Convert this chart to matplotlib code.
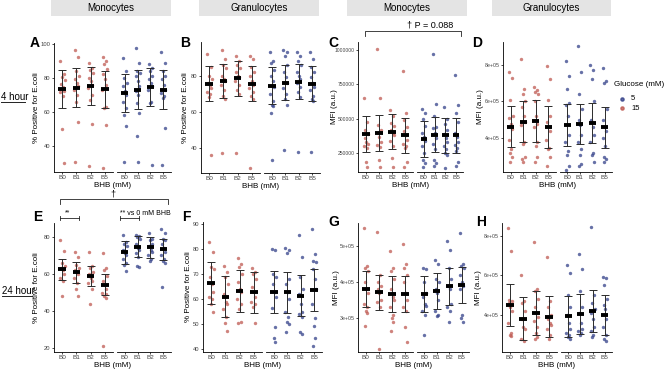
import matplotlib.pyplot as plt
from matplotlib.patches import Rectangle
from matplotlib.lines import Line2D

W, H = 668, 370
plt.rcParams['font.family'] = ['Liberation Sans', 'DejaVu Sans']

groups = ['B0', 'B1', 'B2', 'B5']
red = '#bf5a52'
blue = '#34418a'
# fixed horizontal spread of the points inside a group
jit = [-0.14, 0.10, -0.05, 0.16, -0.10, 0.04, 0.13, -0.16, 0.07, -0.02, 0.11, -0.08, 0.01]

# ---- A: monocytes, 4 hour, % positive ----
A_pts_15 = [[89.8, 82, 80.5, 78.5, 76.5, 74.5, 72.5, 71.5, 69, 50, 30],
            [96.5, 92, 84, 81, 79, 77, 75, 73, 70, 66, 54, 30.5],
            [88.5, 86, 84.5, 83, 80, 78, 76, 74, 70, 67, 52.5, 28],
            [92, 90, 88, 85, 82, 79, 76, 73, 63, 62, 52, 27]]
A_pts_5 = [[91.5, 84, 80, 77, 75, 72, 70, 66, 62, 58, 51.5, 30.5],
           [97.5, 89, 84, 83, 81, 78, 75, 72, 70, 65, 59, 46, 30.5],
           [88, 86, 84, 81, 79, 77, 75, 73, 66, 65, 28.5],
           [95, 89, 84, 81, 79, 76, 73, 71, 69, 68, 50.5, 28.5]]
A_mean_15 = [73.3, 74.1, 75.1, 73.3]
A_sd_15 = [11.0, 11.4, 11.2, 10.9]
A_mean_5 = [71.3, 73.0, 74.7, 73.1]
A_sd_5 = [11.2, 11.6, 11.2, 11.4]

# ---- B: granulocytes, 4 hour, % positive ----
B_pts_15 = [[92, 85, 80, 78, 76, 75, 73, 71, 70, 68, 36],
            [94.5, 89, 86, 84, 80, 78, 77, 75, 72, 69, 67, 37],
            [91, 88, 86, 84, 82, 80, 79, 77, 75, 72, 70, 37],
            [91, 89, 85, 82, 80, 77, 75, 73, 71, 69, 67, 29]]
B_pts_5 = [[93, 88, 87, 83, 80, 77, 74, 70, 66, 64, 63, 59.5, 33],
           [94, 93, 91, 86, 82, 79, 76, 73, 70, 67, 63.5, 38.5],
           [93, 91, 88, 86, 82, 80, 78, 76, 74, 71, 68, 37.5],
           [93, 89, 85, 82, 79, 76, 74, 72, 69, 67, 66, 37.5]]
B_mean_15 = [75.6, 77.0, 78.5, 75.6]
B_sd_15 = [9.75, 9.65, 9.9, 9.75]
B_mean_5 = [74.5, 76.1, 76.7, 75.6]
B_sd_5 = [10.1, 9.75, 9.7, 9.75]

# ---- C: monocytes, 4 hour, MFI (thousands) ----
C_pts_15 = [[647, 475, 420, 390, 360, 330, 315, 300, 285, 190, 148],
            [1005, 651, 455, 420, 400, 370, 330, 310, 295, 200, 150],
            [565, 520, 470, 450, 420, 400, 380, 340, 300, 215, 150],
            [846, 545, 490, 440, 410, 380, 350, 320, 300, 290, 190, 150]]
C_pts_5 = [[570, 545, 500, 450, 400, 370, 340, 300, 250, 200, 180, 150],
           [965, 610, 520, 440, 430, 400, 360, 320, 280, 200, 180, 160],
           [585, 500, 460, 420, 390, 360, 330, 300, 280, 250, 240, 145],
           [815, 600, 540, 480, 400, 370, 330, 310, 290, 270, 190, 160]]
C_mean_15 = [391, 397, 406, 382]
C_sd_15 = [129, 128.5, 127.5, 126]
C_mean_5 = [357, 385, 380, 380]
C_sd_5 = [130, 128.5, 127.5, 126]

# ---- D: granulocytes, 4 hour, MFI (thousands) ----
D_pts_15 = [[760, 726, 606, 520, 510, 480, 450, 390, 340, 320, 300, 273],
            [831, 670, 640, 600, 570, 520, 490, 470, 380, 370, 300, 290, 270],
            [680, 660, 650, 640, 600, 520, 480, 460, 380, 360, 300, 270],
            [790, 720, 610, 520, 490, 460, 440, 390, 350, 340, 300, 250]]
D_pts_5 = [[820, 740, 670, 590, 580, 520, 420, 380, 330, 310, 250, 230],
           [900, 760, 640, 560, 500, 470, 420, 380, 340, 310, 260, 250],
           [800, 770, 720, 600, 500, 460, 420, 380, 320, 310, 270],
           [780, 710, 700, 560, 500, 460, 440, 400, 360, 300, 290, 270]]
D_mean_15 = [464, 490, 494, 462]
D_sd_15 = [112.5, 112.5, 113, 112.5]
D_mean_5 = [472, 478, 483, 460]
D_sd_5 = [113.5, 108.5, 111, 111.5]

# ---- E: monocytes, 24 hour, % positive ----
E_pts_15 = [[78.5, 72.5, 66, 64, 63, 62, 60, 58, 56, 48],
            [72, 69, 65, 63, 62, 61, 60, 58, 55, 52, 48],
            [72, 64.5, 63, 61, 60, 58, 56, 55, 52, 44],
            [71.5, 63, 62, 59, 56, 54, 52, 50, 49, 48, 47, 21]]
E_pts_5 = [[81, 77, 76, 75, 73, 71, 70, 68, 66, 65, 61.5],
           [81, 80.5, 80, 79, 76, 74, 73, 71, 69, 64, 63.5],
           [82, 79, 78, 76, 75, 73, 72, 70, 68, 67],
           [84, 82, 79, 78, 76, 74, 72, 70, 68, 67, 66, 53]]
E_mean_15 = [62.6, 60.8, 59.0, 54.2]
E_sd_15 = [5.7, 5.65, 5.35, 5.65]
E_mean_5 = [71.6, 74.6, 74.3, 73.4]
E_sd_5 = [6.0, 5.75, 5.8, 5.65]

# ---- F: granulocytes, 24 hour, % positive ----
F_pts_15 = [[83, 79, 73, 72, 69, 66, 63, 61, 60, 58, 55],
            [73.5, 71, 69, 66, 62, 59, 58, 56, 53, 50.5, 47.5],
            [76.5, 74, 73, 70, 67, 64, 63, 60, 58, 56, 51, 50.5],
            [72.5, 71, 70, 68, 65, 63, 61, 59, 58, 57, 50.5]]
F_pts_5 = [[80, 79.5, 70, 69, 66, 63, 61, 56.5, 49, 44.5, 43],
           [80.5, 79.5, 78.5, 68, 66, 63, 60, 55, 53, 51, 50, 47],
           [85.5, 77, 69, 64, 62, 58, 55, 54, 53, 47, 46],
           [88, 78, 75.5, 75, 72, 68, 64, 58, 52.5, 49.5, 44.5, 41.5]]
F_mean_15 = [66.4, 61.1, 63.3, 62.8]
F_sd_15 = [8.35, 8.15, 8.45, 8.3]
F_mean_5 = [63.1, 62.9, 61.5, 63.7]
F_sd_5 = [8.4, 8.2, 8.25, 8.4]

# ---- G: monocytes, 24 hour, MFI (thousands) ----
G_pts_15 = [[549, 445, 440, 430, 400, 380, 370, 340, 330, 320, 315, 280],
            [540, 420, 400, 390, 380, 370, 350, 345, 330, 215],
            [485, 440, 430, 410, 380, 360, 350, 330, 310, 300, 290, 265],
            [505, 450, 440, 420, 400, 370, 350, 330, 320, 275, 235]]
G_pts_5 = [[440, 435, 400, 370, 360, 340, 335, 320, 310, 255],
           [460, 450, 410, 400, 380, 370, 350, 320, 310, 305],
           [515, 490, 440, 410, 390, 380, 340, 330, 320, 290],
           [535, 450, 445, 440, 420, 400, 390, 380, 310, 300, 290]]
G_mean_15 = [381.6, 372, 368, 368]
G_sd_15 = [49, 49, 49.5, 49.5]
G_mean_5 = [367, 376, 388, 393]
G_sd_5 = [50.5, 49.5, 51, 49.5]

# ---- H: granulocytes, 24 hour, MFI (thousands) ----
H_pts_15 = [[837, 723, 475, 470, 460, 440, 420, 360, 310, 300, 295],
            [600, 470, 460, 420, 380, 340, 330, 280, 270],
            [770, 530, 520, 480, 440, 410, 390, 370, 340, 310, 290, 280],
            [690, 470, 440, 400, 380, 360, 350, 330, 300, 280]]
H_pts_5 = [[650, 610, 500, 440, 400, 360, 330, 310, 300, 290, 280],
           [710, 630, 520, 440, 410, 360, 330, 320, 310, 300],
           [845, 500, 460, 430, 410, 380, 340, 320, 300, 290],
           [590, 585, 550, 480, 450, 430, 380, 340, 300, 280, 270]]
H_mean_15 = [450, 382, 410, 392]
H_sd_15 = [105, 107, 111, 104]
H_mean_5 = [393, 405, 420, 398]
H_sd_5 = [105, 100.5, 106.5, 101]


def px(x, y):
    # pixel position (from top left) to figure fraction
    return x / W, 1 - y / H


def line(fig, xs, ys, lw=0.6):
    fig.add_artist(Line2D([x / W for x in xs], [1 - y / H for y in ys],
                          transform=fig.transFigure, color='#222222', lw=lw))


def panel(fig, box, pts15, m15, sd15, pts5, m5, sd5, ylim, yticks, ylabels,
          ylabel, ylab_x, letter, letter_xy, scale=1, ytick_size=4.2):
    x0, xg, x1, top, bot = box
    b = 1 - bot / H
    h = (bot - top) / H
    axl = fig.add_axes([x0 / W, b, (xg - 2 - x0) / W, h])
    axr = fig.add_axes([(xg + 2) / W, b, (x1 - xg - 2) / W, h], sharey=axl)
    for ax, pts, m, sd, c in [(axl, pts15, m15, sd15, red), (axr, pts5, m5, sd5, blue)]:
        for i, vals in enumerate(pts):
            xs = [i + jit[k] for k in range(len(vals))]
            ax.scatter(xs, [v * scale for v in vals], s=6, color=c, alpha=0.75,
                       linewidths=0, zorder=2)
        xs = list(range(4))
        ax.errorbar(xs, [v * scale for v in m], yerr=[v * scale for v in sd], fmt='none',
                    ecolor='#2b2b2b', elinewidth=0.7, capsize=2.6, capthick=0.7, zorder=3)
        ax.hlines([v * scale for v in m], [x - 0.28 for x in xs], [x + 0.28 for x in xs],
                  color='black', lw=2.8, zorder=4)
        ax.set_xlim(-0.6, 3.6)
        ax.set_xticks(xs)
        ax.set_xticklabels(groups, fontsize=4.6, color='#444444')
        ax.spines['top'].set_visible(False)
        ax.spines['right'].set_visible(False)
        ax.spines['bottom'].set_linewidth(0.6)
        ax.spines['left'].set_linewidth(0.6)
        ax.tick_params(length=1.5, width=0.5, pad=1.0)
        ax.patch.set_alpha(0)
    axl.set_ylim(ylim)
    axl.set_yticks(yticks)
    axl.set_yticklabels(ylabels, fontsize=ytick_size, color='#444444')
    axr.spines['left'].set_visible(False)
    axr.tick_params(left=False, labelleft=False)
    fig.text(*px((x0 + x1) / 2, bot + 13.5), 'BHB (mM)', ha='center', va='center', fontsize=5.8)
    fig.text(*px(ylab_x, (top + bot) / 2), ylabel, rotation=90, ha='center', va='center',
             fontsize=5.8)
    fig.text(*px(*letter_xy), letter, fontsize=10, fontweight='bold', ha='center', va='center')


fig = plt.figure(figsize=(W / 100, H / 100), dpi=100)

pos_lab = '% Positive for E.coli'
mfi_lab = 'MFI (a.u.)'

panel(fig, (54, 115, 171, 43, 172), A_pts_15, A_mean_15, A_sd_15, A_pts_5, A_mean_5, A_sd_5,
      (24.5, 100.5), [40, 60, 80, 100], ['40', '60', '80', '100'], pos_lab, 36, 'A', (35, 43))
panel(fig, (201, 262, 320, 42, 173), B_pts_15, B_mean_15, B_sd_15, B_pts_5, B_mean_5, B_sd_5,
      (26, 98.7), [40, 60, 80], ['40', '60', '80'], pos_lab, 186, 'B', (185, 43))
panel(fig, (358, 415, 463, 42, 172), C_pts_15, C_mean_15, C_sd_15, C_pts_5, C_mean_5, C_sd_5,
      (115000, 1055000), [250000, 500000, 750000, 1000000],
      ['250000', '500000', '750000', '1000000'], mfi_lab, 334, 'C', (333, 43), scale=1000,
      ytick_size=3.6)
panel(fig, (503, 558, 612, 42, 172), D_pts_15, D_mean_15, D_sd_15, D_pts_5, D_mean_5, D_sd_5,
      (217000, 923000), [400000, 600000, 800000], ['4e+05', '6e+05', '8e+05'],
      mfi_lab, 480, 'D', (477, 43), scale=1000, ytick_size=3.8)
panel(fig, (54, 115, 171, 223, 352), E_pts_15, E_mean_15, E_sd_15, E_pts_5, E_mean_5, E_sd_5,
      (18, 87.4), [20, 40, 60, 80], ['20', '40', '60', '80'], pos_lab, 37, 'E', (38, 217))
panel(fig, (203, 264, 322, 222, 352), F_pts_15, F_mean_15, F_sd_15, F_pts_5, F_mean_5, F_sd_5,
      (38.9, 90.9), [40, 50, 60, 70, 80, 90], ['40', '50', '60', '70', '80', '90'],
      pos_lab, 188, 'F', (186, 217))
panel(fig, (358, 415, 469, 223, 352), G_pts_15, G_mean_15, G_sd_15, G_pts_5, G_mean_5, G_sd_5,
      (206800, 563600), [300000, 400000, 500000], ['3e+05', '4e+05', '5e+05'],
      mfi_lab, 336, 'G', (334, 222), scale=1000, ytick_size=3.8)
panel(fig, (502, 559, 612, 223, 352), H_pts_15, H_mean_15, H_sd_15, H_pts_5, H_mean_5, H_sd_5,
      (213000, 864000), [400000, 600000, 800000], ['4e+05', '6e+05', '8e+05'],
      mfi_lab, 479, 'H', (481, 222), scale=1000, ytick_size=3.8)

# strip headers
strips = [(51, 171, 'Monocytes'), (199, 319, 'Granulocytes'),
          (347, 467, 'Monocytes'), (492, 611, 'Granulocytes')]
for xa, xb, txt in strips:
    fig.add_artist(Rectangle(px(xa, 16), (xb - xa) / W, 16 / H, transform=fig.transFigure,
                             facecolor='#e4e4e4', edgecolor='none'))
    fig.text(*px((xa + xb) / 2, 8), txt, ha='center', va='center', fontsize=7)

# row labels
fig.text(*px(1, 97), '4 hour', ha='left', va='center', fontsize=7)
line(fig, [1, 25], [102, 102], lw=0.7)
fig.text(*px(2, 291), '24 hour', ha='left', va='center', fontsize=7)
line(fig, [2, 32], [296, 296], lw=0.7)

# legend
fig.text(*px(614, 85), 'Glucose (mM)', ha='left', va='center', fontsize=5.8)
for yy, c, lab in [(99, blue, '5'), (108, red, '15')]:
    fig.add_artist(Line2D([622 / W], [1 - yy / H], transform=fig.transFigure, marker='o',
                          ms=2.3, color=c, alpha=0.8, lw=0))
    fig.text(*px(631, yy), lab, ha='left', va='center', fontsize=5.5)

# significance bracket on C
line(fig, [365, 365, 461, 461], [36, 30.5, 30.5, 36])
fig.text(*px(430, 25), '\u2020 P = 0.088', ha='center', va='center', fontsize=6.5)

# significance brackets on E
line(fig, [60, 60, 168, 168], [204, 199, 199, 204])
fig.text(*px(113, 194), '\u2020', ha='center', va='center', fontsize=6.5)
line(fig, [60, 79], [218, 218])
line(fig, [60, 60], [216, 220])
line(fig, [79, 79], [216, 220])
fig.text(*px(68, 213), '**', ha='center', va='center', fontsize=5)
line(fig, [120, 139], [218, 218])
line(fig, [120, 120], [216, 220])
line(fig, [139, 139], [216, 220])
fig.text(*px(145, 213.5), '** vs 0 mM BHB', ha='center', va='center', fontsize=5)

fig.savefig('out.png', dpi=100)
